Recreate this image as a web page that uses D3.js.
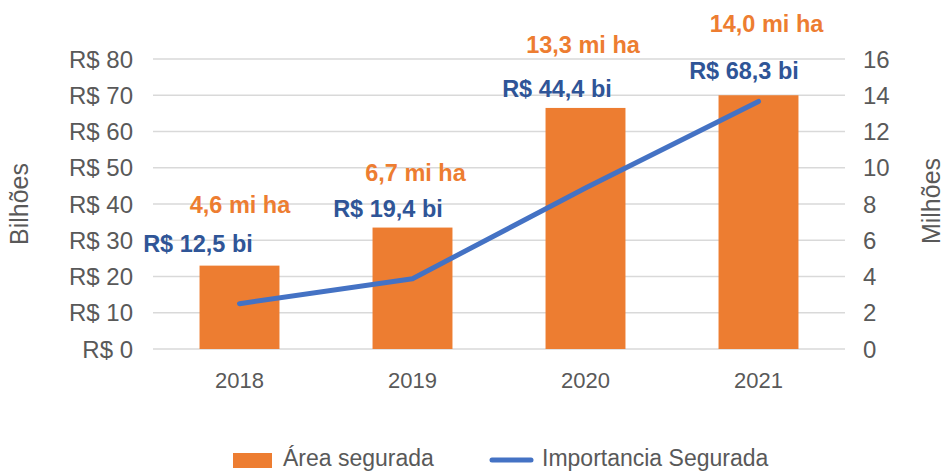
<!DOCTYPE html>
<meta charset="utf-8">
<style>
body { margin: 0; background: #fff; }
text { font-family: "Liberation Sans", Arial, sans-serif; }
.tick-label { fill: #595959; font-size: 24px; }
.year-label { fill: #595959; font-size: 22px; }
.axis-title { fill: #595959; font-size: 25px; }
.area-label { fill: #ED7D31; font-size: 23.5px; font-weight: bold; }
.imp-label { fill: #2F5597; font-size: 23.5px; font-weight: bold; }
.legend-text { fill: #595959; font-size: 23px; }
</style>
<body>
<script src="https://d3js.org/d3.v7.min.js"></script>
<script>
// data
var years = ["2018", "2019", "2020", "2021"];
var area = [4.6, 6.7, 13.3, 14.0];          // mi ha (right axis)
var importancia = [12.5, 19.4, 44.4, 68.3]; // R$ bi (left axis)
var leftTicks = [0, 10, 20, 30, 40, 50, 60, 70, 80];
var rightTicks = [0, 2, 4, 6, 8, 10, 12, 14, 16];

// label nudges (layout only)
var areaLabelShift = [[0.5, -52.6], [3, -46.6], [-2.5, -55], [8, -63]];
var impLabelShift = [[-41.5, -52], [-24.5, -62], [-28.5, -91], [-14.5, -22]];

var W = 947, H = 472;
var plot = {left: 153, right: 845, top: 59, bottom: 349};

var svg = d3.select("body").append("svg")
    .attr("width", W)
    .attr("height", H);

var x = d3.scaleBand().domain(years).range([plot.left, plot.right]).padding(0);
var yL = d3.scaleLinear().domain([0, 80]).range([plot.bottom, plot.top]);
var yR = d3.scaleLinear().domain([0, 16]).range([plot.bottom, plot.top]);
var barW = x.bandwidth() * 0.462;

function fmt(v) { return v.toFixed(1).replace(".", ","); }

// gridlines
svg.append("g").selectAll("line")
    .data(leftTicks)
  .enter().append("line")
    .attr("x1", plot.left).attr("x2", plot.right)
    .attr("y1", function(d) { return yL(d); })
    .attr("y2", function(d) { return yL(d); })
    .style("stroke", "#D9D9D9")
    .style("stroke-width", 1.5);

// left tick labels
svg.append("g").selectAll("text")
    .data(leftTicks)
  .enter().append("text")
    .attr("class", "tick-label")
    .attr("x", 133)
    .attr("y", function(d) { return yL(d); })
    .attr("dy", "0.36em")
    .attr("text-anchor", "end")
    .text(function(d) { return "R$ " + d; });

// right tick labels
svg.append("g").selectAll("text")
    .data(rightTicks)
  .enter().append("text")
    .attr("class", "tick-label")
    .attr("x", 863)
    .attr("y", function(d) { return yR(d); })
    .attr("dy", "0.36em")
    .text(function(d) { return d; });

// axis titles
svg.append("text")
    .attr("class", "axis-title")
    .attr("transform", "translate(28,204) rotate(-90)")
    .attr("text-anchor", "middle")
    .text("Bilhões");
svg.append("text")
    .attr("class", "axis-title")
    .attr("transform", "translate(940,201) rotate(-90)")
    .attr("text-anchor", "middle")
    .text("Milhões");

// bars
svg.append("g").selectAll("rect")
    .data(area)
  .enter().append("rect")
    .attr("x", function(d, i) { return x(years[i]) + x.bandwidth() / 2 - barW / 2; })
    .attr("y", function(d) { return yR(d); })
    .attr("width", barW)
    .attr("height", function(d) { return yR(0) - yR(d); })
    .style("fill", "#ED7D31");

// line
var line = d3.line()
    .x(function(d, i) { return x(years[i]) + x.bandwidth() / 2; })
    .y(function(d) { return yL(d); });

svg.append("path")
    .datum(importancia)
    .attr("d", line)
    .style("fill", "none")
    .style("stroke", "#4472C4")
    .style("stroke-width", 5)
    .style("stroke-linecap", "round")
    .style("stroke-linejoin", "round");

// year labels
svg.append("g").selectAll("text")
    .data(years)
  .enter().append("text")
    .attr("class", "year-label")
    .attr("x", function(d) { return x(d) + x.bandwidth() / 2; })
    .attr("y", 388)
    .attr("text-anchor", "middle")
    .text(function(d) { return d; });

// area labels
svg.append("g").selectAll("text")
    .data(area)
  .enter().append("text")
    .attr("class", "area-label")
    .attr("x", function(d, i) { return x(years[i]) + x.bandwidth() / 2 + areaLabelShift[i][0]; })
    .attr("y", function(d, i) { return yR(d) + areaLabelShift[i][1]; })
    .attr("text-anchor", "middle")
    .text(function(d) { return fmt(d) + " mi ha"; });

// importancia labels
svg.append("g").selectAll("text")
    .data(importancia)
  .enter().append("text")
    .attr("class", "imp-label")
    .attr("x", function(d, i) { return x(years[i]) + x.bandwidth() / 2 + impLabelShift[i][0]; })
    .attr("y", function(d, i) { return yL(d) + impLabelShift[i][1]; })
    .attr("text-anchor", "middle")
    .text(function(d) { return "R$ " + fmt(d) + " bi"; });

// legend
var legend = svg.append("g");
legend.append("rect")
    .attr("x", 233).attr("y", 453)
    .attr("width", 39).attr("height", 15)
    .style("fill", "#ED7D31");
legend.append("text")
    .attr("class", "legend-text")
    .attr("x", 283).attr("y", 466)
    .text("Área segurada");
legend.append("line")
    .attr("x1", 492).attr("x2", 531)
    .attr("y1", 460).attr("y2", 460)
    .style("stroke", "#4472C4")
    .style("stroke-width", 5)
    .style("stroke-linecap", "round");
legend.append("text")
    .attr("class", "legend-text")
    .attr("x", 542).attr("y", 466)
    .text("Importancia Segurada");
</script>
</body>
